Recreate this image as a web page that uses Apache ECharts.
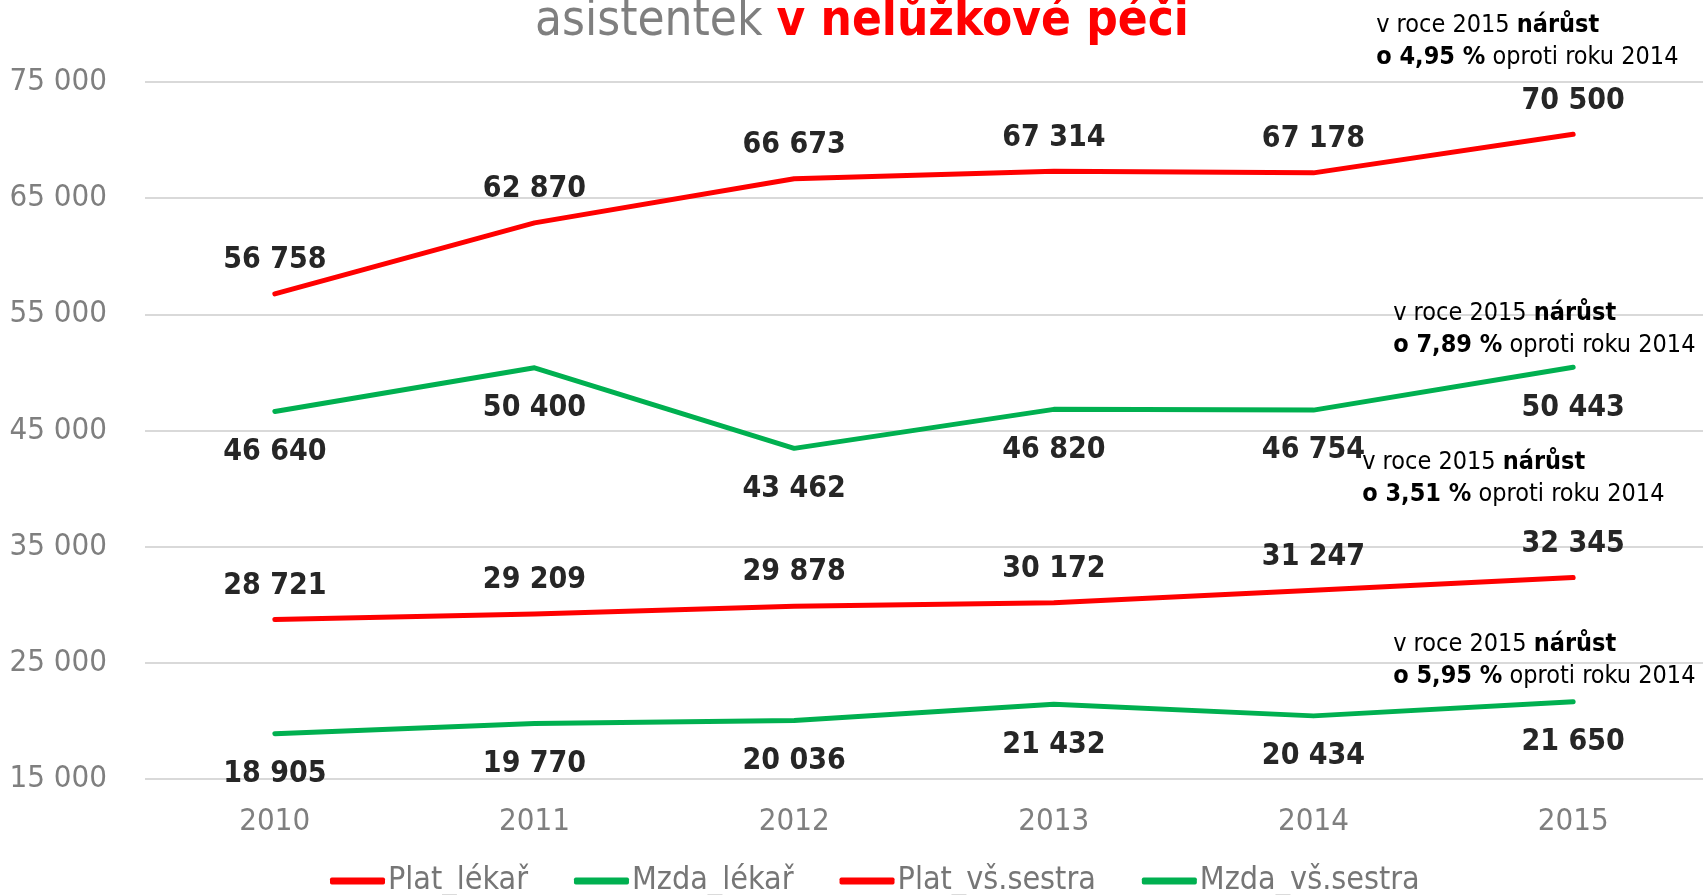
<!DOCTYPE html>
<html>
<head>
<meta charset="utf-8">
<script src="https://cdn.jsdelivr.net/npm/echarts@6/dist/echarts.min.js"></script>
<style>
html,body{margin:0;padding:0;background:#fff;}
#chart{width:1706px;height:895px;}
</style>
</head>
<body>
<div id="chart"></div>
<script>
var categories = ['2010', '2011', '2012', '2013', '2014', '2015'];
var seriesNames = ['Plat_lékař', 'Mzda_lékař', 'Plat_vš.sestra', 'Mzda_vš.sestra'];
var platLekar = [56758, 62870, 66673, 67314, 67178, 70500];
var mzdaLekar = [46640, 50400, 43462, 46820, 46754, 50443];
var platSestra = [28721, 29209, 29878, 30172, 31247, 32345];
var mzdaSestra = [18905, 19770, 20036, 21432, 20434, 21650];
var growth = ['4,95', '7,89', '3,51', '5,95'];
var yTicks = [15000, 25000, 35000, 45000, 55000, 65000, 75000];

var FONT = '"DejaVu Sans Condensed", "DejaVu Sans", sans-serif';
var RED = '#FF0000', GREEN = '#00B050';

function fmt(v) { return String(v).replace(/\B(?=(\d{3})+(?!\d))/g, ' '); }

function note(g) {
  return '{n|v roce 2015 }{b|nárůst}\n{b|o ' + g + ' %}{n| oproti roku 2014}';
}

var noteRich = {
  n: {fontFamily: FONT, fontSize: 25, color: '#000', lineHeight: 32},
  b: {fontFamily: FONT, fontSize: 25, fontWeight: 'bold', color: '#000', lineHeight: 32}
};

function makeSeries(name, data, color, pos, g, off) {
  return {
    name: name,
    type: 'line',
    data: data,
    symbol: 'circle',
    symbolSize: 1,
    showSymbol: true,
    lineStyle: {color: color, width: 5, cap: 'round', join: 'round'},
    itemStyle: {color: color},
    label: {
      show: true,
      position: pos,
      distance: pos === 'top' ? 18 : 25,
      formatter: function (p) { return fmt(p.value); },
      fontFamily: FONT,
      fontSize: 30,
      fontWeight: 'bold',
      color: '#262626'
    },
    markPoint: {
      symbol: 'circle',
      symbolSize: 0,
      silent: true,
      data: [{coord: [categories.length - 1, data[data.length - 1]]}],
      label: {
        show: true,
        position: 'inside',
        align: 'left',
        verticalAlign: 'middle',
        offset: off,
        formatter: note(g),
        rich: noteRich
      }
    }
  };
}

var chart = echarts.init(document.getElementById('chart'));
chart.setOption({
  animation: false,
  backgroundColor: '#fff',
  title: {
    text: '{a|asistentek }{b|v nelůžkové péči}',
    left: 530,
    top: -7,
    textStyle: {
      fontWeight: 'normal',
      rich: {
        a: {fontFamily: FONT, fontSize: 49, fontWeight: 'normal', color: '#7F7F7F'},
        b: {fontFamily: FONT, fontSize: 49, fontWeight: 'bold', color: RED}
      }
    }
  },
  grid: {left: 145, right: 3, top: 82, bottom: 116},
  legend: {
    left: 325,
    top: 858,
    icon: 'roundRect',
    itemWidth: 55,
    itemHeight: 7,
    itemGap: 46,
    textStyle: {fontFamily: FONT, fontSize: 32, lineHeight: 36, color: '#767676', padding: [0, 0, 0, -2]},
    data: seriesNames
  },
  xAxis: {
    type: 'category',
    data: categories,
    boundaryGap: true,
    axisLine: {show: false},
    axisTick: {show: false},
    axisLabel: {fontFamily: FONT, fontSize: 31, color: '#7F7F7F', margin: 27}
  },
  yAxis: {
    type: 'value',
    min: yTicks[0],
    max: yTicks[yTicks.length - 1],
    interval: yTicks[1] - yTicks[0],
    axisLine: {show: false},
    axisTick: {show: false},
    splitLine: {lineStyle: {color: '#D9D9D9', width: 2}},
    axisLabel: {fontFamily: FONT, fontSize: 31, color: '#7F7F7F', margin: 38, formatter: function (v) { return fmt(v); }}
  },
  series: [
    makeSeries(seriesNames[0], platLekar, RED, 'top', growth[0], [-197, -93]),
    makeSeries(seriesNames[1], mzdaLekar, GREEN, 'bottom', growth[1], [-180, -38]),
    makeSeries(seriesNames[2], platSestra, RED, 'top', growth[2], [-211, -99]),
    makeSeries(seriesNames[3], mzdaSestra, GREEN, 'bottom', growth[3], [-180, -41])
  ]
});
</script>
</body>
</html>
